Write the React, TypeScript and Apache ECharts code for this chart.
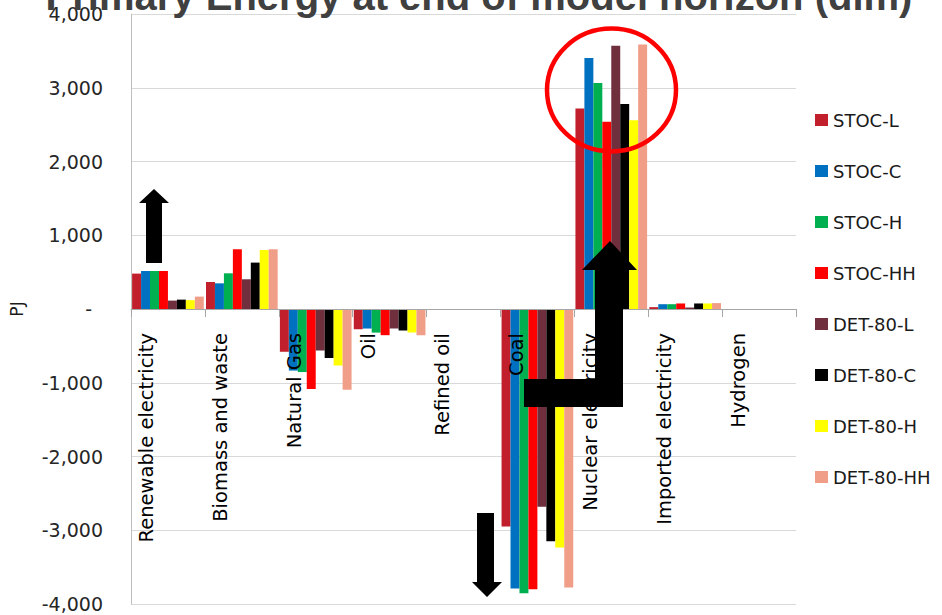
import React, { useEffect, useRef } from "react";
import * as echarts from "echarts";

const categories = [
  "Renewable electricity",
  "Biomass and waste",
  "Natural Gas",
  "Oil",
  "Refined oil",
  "Coal",
  "Nuclear electricity",
  "Imported electricity",
  "Hydrogen",
];

const seriesNames = ["STOC-L", "STOC-C", "STOC-H", "STOC-HH", "DET-80-L", "DET-80-C", "DET-80-H", "DET-80-HH"];
const seriesColors = ["#c01f2b", "#0070c0", "#00b050", "#ff0000", "#6f2f3d", "#000000", "#ffff00", "#f09e88"];

const stocL = [480, 366, -580, -275, 0, -2950, 2720, 25, 0];
const stocC = [515, 348, -835, -265, 0, -3790, 3405, 65, 0];
const stocH = [515, 484, -855, -320, 0, -3855, 3065, 65, 0];
const stocHH = [515, 810, -1085, -355, 0, -3800, 2540, 75, 0];
const det80L = [114, 403, -563, -265, 0, -2680, 3570, 20, 0];
const det80C = [127, 629, -665, -293, 0, -3150, 2780, 75, 0];
const det80H = [120, 800, -765, -320, 0, -3235, 2560, 75, 0];
const det80HH = [168, 810, -1095, -355, 0, -3775, 3585, 80, 0];

const seriesValues = [stocL, stocC, stocH, stocHH, det80L, det80C, det80H, det80HH];

const yMin = -4000;
const yMax = 4000;
const yStep = 1000;

const titleText = "Primary Energy at end of model horizon (dlm)";
const yName = "PJ";

const GRID_TOP = 14;
const GRID_BOTTOM = 11;
const CHART_H = 615;

export default function App() {
  const ref = useRef<HTMLDivElement>(null);

  useEffect(() => {
    if (!ref.current) return;
    const chart = echarts.init(ref.current, undefined, { renderer: "svg" });
    const plotH = CHART_H - GRID_TOP - GRID_BOTTOM;
    const zeroOffset = -plotH * (0 - yMin) / (yMax - yMin);
    const option: any = {
      animation: false,
      backgroundColor: "#ffffff",
      grid: { left: 131, right: 146, top: GRID_TOP, bottom: GRID_BOTTOM, containLabel: false, outerBoundsMode: "none" },
      legend: {
        orient: "vertical",
        left: 810,
        top: 106,
        itemWidth: 13,
        itemHeight: 12,
        itemGap: 33,
        icon: "rect",
        data: seriesNames,
        textStyle: { fontFamily: "DejaVu Sans", fontSize: 18, lineHeight: 18, color: "#1a1a1a" },
      },
      xAxis: {
        type: "category",
        data: categories,
        position: "bottom",
        offset: zeroOffset,
        z: 10,
        axisLine: { onZero: false, lineStyle: { color: "#a6a6a6", width: 1 } },
        axisTick: { show: true, length: 8, lineStyle: { color: "#a6a6a6" } },
        splitLine: { show: false },
        axisLabel: {
          interval: 0,
          rotate: 90,
          margin: 24,
          fontFamily: "DejaVu Sans",
          fontSize: 19.5,
          color: "#000000",
          verticalAlign: "bottom",
          lineHeight: 42,
        },
      },
      yAxis: {
        type: "value",
        min: yMin,
        max: yMax,
        interval: yStep,
        name: yName,
        nameLocation: "middle",
        nameGap: 106,
        nameTextStyle: { fontFamily: "DejaVu Sans", fontSize: 17, color: "#1a1a1a" },
        axisLine: { show: true, onZero: false, lineStyle: { color: "#bfbfbf" } },
        axisTick: { show: false },
        splitLine: { lineStyle: { color: "#d9d9d9", width: 1 } },
        axisLabel: {
          margin: 28,
          fontFamily: "DejaVu Sans",
          fontSize: 19,
          color: "#262626",
          formatter: (v: number) => (v === 0 ? "{z|-}" : v.toLocaleString("en-US")),
          rich: {
            z: { fontFamily: "DejaVu Sans", fontSize: 19, color: "#262626", padding: [0, 11, 0, 0] },
          },
        },
      },
      series: seriesNames.map((name, i) => ({
        name,
        type: "bar",
        data: seriesValues[i],
        barGap: "0%",
        barCategoryGap: "3%",
        itemStyle: { color: seriesColors[i] },
      })),
      graphic: [
        {
          type: "text",
          x: 479,
          y: -4,
          z: 100,
          style: {
            text: titleText,
            fontFamily: "Liberation Sans",
            fontSize: 40,
            fontWeight: "bold",
            fill: "#404040",
            align: "center",
            verticalAlign: "middle",
            textAlign: "center",
            textVerticalAlign: "middle",
          },
        },
        {
          type: "ellipse",
          z: 100,
          shape: { cx: 611.5, cy: 90, rx: 64.5, ry: 61.5 },
          style: { fill: "none", stroke: "#ff0000", lineWidth: 4.5 },
        },
        {
          type: "polygon",
          z: 100,
          shape: {
            points: [
              [146, 263], [146, 203], [139, 203], [154, 189], [169, 203], [162, 203], [162, 263],
            ],
          },
          style: { fill: "#000000" },
        },
        {
          type: "polygon",
          z: 100,
          shape: {
            points: [
              [477, 513], [494, 513], [494, 582], [502, 582], [487, 597], [472, 582], [477, 582],
            ],
          },
          style: { fill: "#000000" },
        },
        {
          type: "polygon",
          z: 100,
          shape: {
            points: [
              [524, 379], [595, 379], [595, 270], [582, 270], [610, 241], [637, 270], [623, 270], [623, 407], [524, 407],
            ],
          },
          style: { fill: "#000000" },
        },
      ],
    };
    chart.setOption(option);
    return () => chart.dispose();
  }, []);

  return (
    <div
      ref={ref}
      style={{ position: "fixed", left: 0, top: 0, width: 942, height: 615, background: "#fff" }}
    />
  );
}
